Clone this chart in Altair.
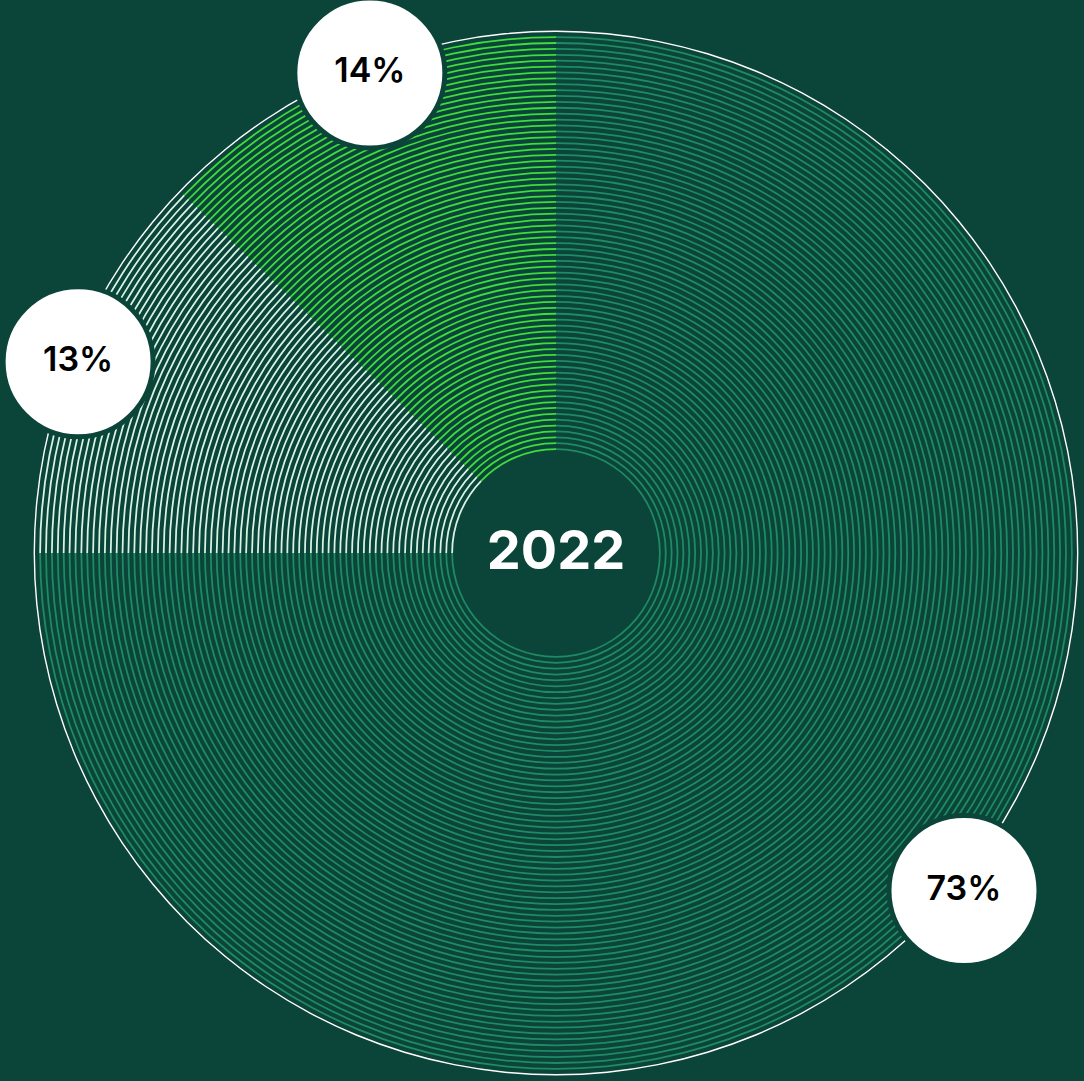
import math
import altair as alt
import pandas as pd

# ---- data ----
segments = ["share_a", "share_b", "share_c"]
segment_values = [75.0, 12.2, 12.8]          # angular share as drawn
segment_colors = ["#1f8b63", "#d8f3e4", "#3fdc3b"]
label_texts = ["73%", "13%", "14%"]
label_angles_deg = [129.6, 291.8, 338.8]     # clockwise from 12 o'clock
label_radii = [529.5, 514.7, 514.8]
center_text = ["2022"]
ring_count = 71

# ---- layout ----
W, H = 1084, 1081
CX, CY = 556, 553
R_IN, R_OUT = 103, 521
BG = "#0b453a"

# build ring table
rows = []
start = 0.0
bounds = []
for s, v in zip(segments, segment_values):
    bounds.append((s, start, start + v))
    start += v
for i in range(ring_count):
    for s, a, b in bounds:
        rows.append({"seg": s, "start": a, "end": b, "r0": i, "r1": i + 0.3})
rings = pd.DataFrame(rows)

labels = pd.DataFrame({
    "text": label_texts,
    "x": [r * math.sin(math.radians(a)) for r, a in zip(label_radii, label_angles_deg)],
    "y": [r * math.cos(math.radians(a)) for r, a in zip(label_radii, label_angles_deg)],
})
center = pd.DataFrame({"text": center_text, "x": [0.0], "y": [0.0]})

xs = alt.Scale(domain=[-CX, W - CX], range=[0, W], zero=False, nice=False)
ys = alt.Scale(domain=[-(H - CY), CY], range=[H, 0], zero=False, nice=False)
theta_scale = alt.Scale(domain=[0, 100], range=[0, 2 * math.pi])
rad_scale = alt.Scale(type="linear", domain=[0, ring_count - 1], range=[R_IN, R_OUT - 6], zero=False, nice=False)

arcs = alt.Chart(rings).mark_arc(strokeWidth=0).encode(
    x=alt.X(datum=0, scale=xs, axis=None),
    y=alt.Y(datum=0, scale=ys, axis=None),
    theta=alt.Theta("start:Q", scale=theta_scale),
    theta2="end:Q",
    radius=alt.Radius("r0:Q", scale=rad_scale),
    radius2="r1:Q",
    color=alt.Color("seg:N", scale=alt.Scale(domain=segments, range=segment_colors), legend=None),
)

outer = alt.Chart(center).mark_arc(color="#ffffff", strokeWidth=0).encode(
    x=alt.X("x:Q", scale=xs, axis=None),
    y=alt.Y("y:Q", scale=ys, axis=None),
    theta=alt.value(0),
    theta2=alt.value(2 * math.pi),
    radius=alt.value(R_OUT),
    radius2=alt.value(R_OUT + 1.4),
)

bubbles = alt.Chart(labels).mark_point(
    shape="circle", filled=True, fill="#ffffff", stroke=BG, strokeWidth=5, opacity=1, size=22500
).encode(
    x=alt.X("x:Q", scale=xs, axis=None),
    y=alt.Y("y:Q", scale=ys, axis=None),
)

label_text = alt.Chart(labels).mark_text(
    font="Inter", fontSize=34, fontWeight=600, color="#000000", align="center", baseline="middle", dy=-1
).encode(
    x=alt.X("x:Q", scale=xs, axis=None),
    y=alt.Y("y:Q", scale=ys, axis=None),
    text="text:N",
)

center_label = alt.Chart(center).mark_text(
    font="Inter", fontSize=54, fontWeight=700, color="#ffffff", align="center", baseline="middle"
).encode(
    x=alt.X("x:Q", scale=xs, axis=None),
    y=alt.Y("y:Q", scale=ys, axis=None),
    text="text:N",
)

chart = alt.layer(arcs, outer, bubbles, label_text, center_label).properties(
    width=W, height=H, padding=0, autosize=alt.AutoSizeParams(type="none"), background=BG
).configure_view(strokeWidth=0)

chart.save("out.html", embed_options={"renderer": "svg", "actions": False})
